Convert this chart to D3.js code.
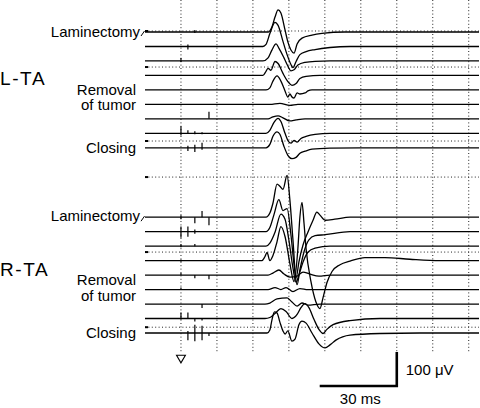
<!DOCTYPE html>
<html lang="en">
<head>
<meta charset="utf-8">
<title>L-TA / R-TA motor evoked potentials</title>
<script src="https://d3js.org/d3.v7.min.js"></script>
<style>
  body { margin: 0; background: #fff; }
  svg { display: block; font-family: "Liberation Sans", Arial, sans-serif; }
</style>
</head>
<body>
<div id="chart"></div>
<script>
// Time axis: ms from the first stimulus, dotted grid every 14 ms
const timeDomain = [-14, 116];
const gridTimes = [0, 14, 28, 42, 56, 70, 84, 98, 112];
// horizontal dotted reference lines, in trace-row units
const gridRows = [-0.07, 2.42, 7.53, 10.02, 15.2, 20.39];

const panelNames = ["L-TA", "R-TA"];
const panelFirstRow = [0, 12.79];
const panelNameRow = [3.2, 3.6];
const stageNames = [["Laminectomy"], ["Removal", "of tumor"], ["Closing"]];
const stageRows = [[0, 4, 8], [-0.1, 4.35, 8]];

// L-TA responses, [ms, µV], top trace first (baseline elsewhere = 0)
const ltaTraces = [
  [[33.9,0],[35.4,15],[36.6,44],[37.8,65],[38.9,56],[40.5,6],[41.6,-29],[42.8,-53],[44.0,-62],[45.2,-35],[47.1,-18],[51.0,-9],[54.9,-4],[63.8,0]],
  [[31.9,0],[33.1,6],[34.6,38],[36.6,71],[37.8,62],[39.7,15],[41.3,-24],[42.8,-53],[43.6,-62],[44.8,-44],[46.3,-24],[48.7,-15],[52.2,-9],[58.0,-3],[65.8,0]],
  [[31.9,0],[33.9,9],[35.4,32],[37.0,50],[38.1,38],[40.1,9],[41.6,-15],[42.8,-29],[44.0,-26],[45.5,-12],[48.3,-4],[52.2,-1],[58.0,0]],
  [[31.9,0],[33.1,12],[33.9,21],[35.0,15],[36.6,41],[37.8,35],[39.7,6],[41.6,-18],[43.2,-29],[44.8,-24],[46.3,-9],[48.7,-3],[54.1,0]],
  [[33.1,0],[34.6,6],[35.8,26],[37.4,41],[38.9,26],[40.5,-3],[41.6,-21],[42.4,-12],[43.2,-21],[44.0,-24],[45.2,-9],[46.3,-12],[48.3,-9],[49.4,-3],[51.0,0]],
  [[34.6,0],[38.5,3],[42.4,-3],[45.5,0]],
  [[33.9,0],[35.8,6],[37.8,9],[39.7,3],[42.4,-6],[44.8,-3],[48.3,0]],
  [[33.1,0],[34.6,9],[36.2,32],[37.8,44],[38.9,35],[40.5,0],[41.6,-21],[42.8,-29],[44.0,-21],[45.2,-26],[46.7,-15],[48.7,-9],[52.2,-3],[58.0,0]],
  [[33.1,0],[34.6,10],[35.8,34],[37.4,47],[38.5,40],[40.1,4],[41.6,-22],[43.2,-32],[44.8,-28],[46.3,-16],[48.3,-10],[51.0,-4],[58.0,-1],[69.7,0]]
];

// R-TA responses
const rtaTraces = [
  [[33.1,0],[34.6,12],[35.8,41],[37.4,97],[38.5,91],[39.7,82],[41.3,123],[42.4,50],[43.6,-68],[44.8,-179],[45.9,-132],[47.5,-82],[49.4,-44],[51.4,-9],[52.9,15],[54.1,6],[56.1,-9],[59.9,-6],[65.8,0]],
  [[33.1,0],[34.6,12],[36.2,50],[38.1,94],[39.7,62],[41.3,68],[42.8,-9],[44.0,-97],[45.2,-156],[46.3,-112],[47.9,-59],[49.8,-24],[52.2,-12],[56.1,-9],[65.8,0]],
  [[33.1,0],[34.6,9],[36.6,41],[38.9,94],[40.5,79],[42.0,18],[43.6,-65],[44.8,-106],[45.9,-85],[47.5,-47],[49.4,-18],[52.2,-6],[58.0,0]],
  [[31.5,0],[32.7,12],[33.5,24],[34.6,0],[35.8,15],[37.4,56],[38.9,100],[40.5,71],[42.4,-9],[44.0,-62],[45.5,35],[46.3,129],[47.1,171],[47.9,109],[48.7,35],[50.6,-62],[52.5,-121],[54.1,-141],[55.3,-109],[56.8,-65],[58.8,-32],[61.9,-12],[65.8,-1.5],[71.6,9],[79.4,9],[89.1,4],[100.8,0]],
  [[33.9,0],[35.8,6],[38.1,15],[40.1,3],[42.4,-6],[45.2,-3],[47.5,9],[50.2,3],[53.7,-3],[58.0,0]],
  [[33.9,0],[36.6,6],[38.9,0],[40.9,6],[43.6,-6],[46.3,3],[49.4,0]],
  [[32.7,0],[34.6,3],[37.4,15],[41.3,18],[43.2,6],[45.2,-6],[47.1,3],[49.4,-3],[54.1,0]],
  [[32.7,0],[34.6,3],[36.6,15],[38.9,29],[40.9,21],[43.2,0],[45.2,12],[46.7,32],[48.3,44],[49.8,32],[51.8,-3],[53.7,-32],[55.3,-44],[56.8,-32],[59.2,-18],[65.8,-6],[77.5,0]],
  [[33.5,0],[34.6,9],[35.4,38],[36.4,62],[37.4,59],[38.5,32],[39.7,6],[40.5,-3],[41.6,6],[43.2,-24],[44.4,-18],[45.9,24],[47.1,35],[48.7,29],[51.0,0],[53.7,-32],[56.1,-44],[58.0,-35],[60.3,-21],[65.8,-6],[77.5,-1.5],[93.0,0]]
];

// stimulus artifacts: [trace, ms, up µV, down µV]
const ltaSpikes = [
  [0,5.4,6,3],[1,2.7,6,9],[2,0,9,3],[6,10.9,21,0],
  [7,0,21,6],[7,2.7,9,0],[7,5.4,6,3],[7,8.2,3,3],
  [8,2.7,6,9],[8,5.4,9,12],[8,8.2,15,6]
];
const rtaSpikes = [
  [0,0,6,6],[0,5.4,0,18],[0,8.2,18,0],[0,10.9,0,24],
  [1,0,15,18],[1,2.7,15,15],[1,5.4,6,6],
  [2,0,6,3],[2,5.4,6,0],[3,0,3,3],
  [4,0,6,0],[4,5.4,0,9],[4,10.9,0,12],[5,0,6,0],[6,8.2,0,12],
  [7,0,18,3],[7,2.7,18,0],[7,5.4,0,9],[7,8.2,0,6],
  [8,2.7,6,21],[8,5.4,24,24],[8,8.2,21,21],[8,10.9,0,9]
];

// calibration bar
const barTime = [54, 84];   // 30 ms
const barAmp = 100;         // 100 µV
const barRow = 24.45;
const stimRow = 22.5;

var width = 480, height = 408;

var svg = d3.select("#chart").append("svg")
    .attr("width", width)
    .attr("height", height);

var x = d3.scaleLinear().domain(timeDomain).range([145, 479]);
var rowY = d3.scaleLinear().domain([0, 20.79]).range([32, 333]);
var amp = d3.scaleLinear().domain([0, 100]).range([0, -34]);

// vertical dotted grid
svg.append("g").selectAll("line")
    .data(gridTimes)
    .enter().append("line")
    .attr("x1", d => x(d)).attr("x2", d => x(d))
    .attr("y1", 0).attr("y2", rowY(22.1))
    .attr("stroke", "#222")
    .attr("stroke-width", 1)
    .attr("stroke-dasharray", "1,2.4");

// horizontal dotted reference lines with a short mark at the start
var hg = svg.append("g");
hg.selectAll("line.dot")
    .data(gridRows)
    .enter().append("line")
    .attr("class", "dot")
    .attr("x1", x(timeDomain[0])).attr("x2", x(timeDomain[1]))
    .attr("y1", d => rowY(d)).attr("y2", d => rowY(d))
    .attr("stroke", "#222")
    .attr("stroke-width", 1)
    .attr("stroke-dasharray", "1,2.4");
hg.selectAll("line.mark")
    .data(gridRows)
    .enter().append("line")
    .attr("class", "mark")
    .attr("x1", x(timeDomain[0])).attr("x2", x(timeDomain[0] + 1.2))
    .attr("y1", d => rowY(d)).attr("y2", d => rowY(d))
    .attr("stroke", "#000")
    .attr("stroke-width", 2);

var line = d3.line()
    .x(d => x(d[0]))
    .y(d => d[1])
    .curve(d3.curveMonotoneX);

function drawPanel(traces, spikes, p) {
    var g = svg.append("g");
    var base = i => rowY(panelFirstRow[p] + i);

    traces.forEach((tr, i) => {
        var pts = [[timeDomain[0], 0]].concat(tr, [[timeDomain[1], 0]])
            .map(d => [d[0], base(i) + amp(d[1])]);
        g.append("path")
            .attr("d", line(pts))
            .attr("fill", "none")
            .attr("stroke", "#000")
            .attr("stroke-width", 1.3)
            .attr("stroke-linejoin", "round");
    });

    g.selectAll("line.spike")
        .data(spikes)
        .enter().append("line")
        .attr("class", "spike")
        .attr("x1", d => x(d[1])).attr("x2", d => x(d[1]))
        .attr("y1", d => base(d[0]) + amp(d[2]))
        .attr("y2", d => base(d[0]) - amp(d[3]))
        .attr("stroke", "#000")
        .attr("stroke-width", 1.2);

    // leader from "Laminectomy" to its trace
    g.append("line")
        .attr("x1", 141).attr("y1", base(0) + 4)
        .attr("x2", 144.5).attr("y2", base(0) - 1)
        .attr("stroke", "#000").attr("stroke-width", 1);

    // muscle name
    g.append("text")
        .attr("x", 0)
        .attr("y", rowY(panelFirstRow[p] + panelNameRow[p]))
        .attr("dominant-baseline", "central")
        .style("font-size", "19px")
        .style("letter-spacing", "1.6px")
        .text(panelNames[p]);

    // stage labels
    stageNames.forEach((lines, k) => {
        var yc = rowY(panelFirstRow[p] + stageRows[p][k]);
        var right = k === 0 ? 140 : 136;
        var t = g.append("text")
            .attr("text-anchor", "end")
            .style("font-size", "15px");
        lines.forEach((s, j) => {
            t.append("tspan")
                .attr("x", right)
                .attr("y", yc + 5 + j * 15.5)
                .text(s);
        });
    });
}

drawPanel(ltaTraces, ltaSpikes, 0);
drawPanel(rtaTraces, rtaSpikes, 1);

// stimulus marker
svg.append("path")
    .attr("d", d3.symbol().type(d3.symbolTriangle).size(34)())
    .attr("transform", "translate(" + x(0) + "," + rowY(stimRow) + ") rotate(180)")
    .attr("fill", "#fff")
    .attr("stroke", "#000")
    .attr("stroke-width", 1.1);

// calibration bar
var by = rowY(barRow);
svg.append("path")
    .attr("d", "M" + x(barTime[0]) + "," + by + "H" + x(barTime[1]) + "V" + (by + amp(barAmp)))
    .attr("fill", "none")
    .attr("stroke", "#000")
    .attr("stroke-width", 2.6);

svg.append("text")
    .attr("x", x(barTime[1]) + 9)
    .attr("y", by + amp(barAmp / 2) + 1)
    .attr("dominant-baseline", "central")
    .style("font-size", "15px")
    .text("100 μV");

svg.append("text")
    .attr("x", x((barTime[0] + barTime[1]) / 2) + 2)
    .attr("y", by + 18)
    .attr("text-anchor", "middle")
    .style("font-size", "15px")
    .text("30 ms");
</script>
</body>
</html>
